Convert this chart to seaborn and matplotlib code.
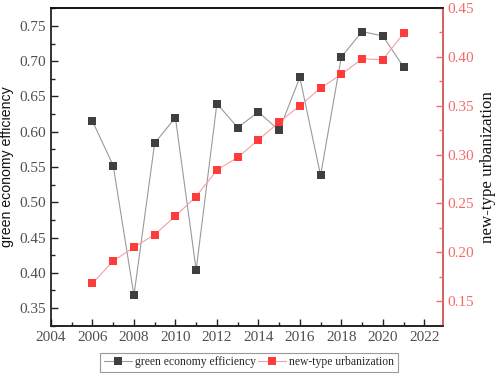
import numpy as np
import pandas as pd
import matplotlib
matplotlib.use("Agg")
import matplotlib.pyplot as plt
import seaborn as sns
from matplotlib.ticker import MultipleLocator, FormatStrFormatter

# Values.
years = [2006, 2007, 2008, 2009, 2010, 2011, 2012, 2013,
         2014, 2015, 2016, 2017, 2018, 2019, 2020, 2021]
green_eff = [0.615, 0.552, 0.368, 0.584, 0.620, 0.404, 0.640, 0.606,
             0.628, 0.602, 0.677, 0.538, 0.706, 0.742, 0.736, 0.692]
urbanization = [0.168, 0.191, 0.205, 0.218, 0.237, 0.257, 0.284, 0.297,
                0.315, 0.333, 0.350, 0.368, 0.382, 0.398, 0.397, 0.424]

df = pd.DataFrame({"year": years, "green": green_eff, "urban": urbanization})

sns.set_theme(style="ticks")
plt.rcParams["font.family"] = ["Liberation Serif", "DejaVu Serif"]

fig = plt.figure(figsize=(4.98, 3.74), dpi=100)
ax = fig.add_axes([0.1024, 0.1283, 0.787, 0.8503])
ax2 = ax.twinx()

red = "#ff3b3b"
red_axis = "#f26b6b"

sns.lineplot(data=df, x="year", y="green", ax=ax, color="#9a9a9a",
             marker="s", markersize=5.4, markeredgewidth=0, linewidth=0.8,
             markerfacecolor="#3f3f3f", legend=False)

sns.lineplot(data=df, x="year", y="urban", ax=ax2, color="#f4a0a0",
             marker="s", markersize=5.4, markeredgewidth=0, linewidth=0.8,
             markerfacecolor=red, legend=False)

ax.set_xlim(2004, 2022.9)
ax.set_ylim(0.3245, 0.7755)
ax2.set_ylim(0.1244, 0.45)

ax.xaxis.set_major_locator(MultipleLocator(2))
ax.xaxis.set_minor_locator(MultipleLocator(1))
ax.yaxis.set_major_locator(MultipleLocator(0.05))
ax.yaxis.set_minor_locator(MultipleLocator(0.025))
ax2.yaxis.set_major_locator(MultipleLocator(0.05))
ax2.yaxis.set_minor_locator(MultipleLocator(0.025))
ax.yaxis.set_major_formatter(FormatStrFormatter("%.2f"))
ax2.yaxis.set_major_formatter(FormatStrFormatter("%.2f"))

ax.tick_params(axis="both", which="major", direction="in", length=5,
               width=1, labelsize=11, labelcolor="#505050", color="#222222")
ax.tick_params(axis="both", which="minor", direction="in", length=3,
               width=1, color="#222222")
ax.tick_params(axis="y", right=False)
ax.tick_params(axis="x", top=False, which="both")
ax2.tick_params(axis="y", which="major", direction="in", length=5, width=1,
                labelsize=11, labelcolor=red_axis, color=red_axis)
ax2.tick_params(axis="y", which="minor", direction="in", length=3, width=1,
                color=red_axis)

for s in ["left", "bottom", "top"]:
    ax.spines[s].set_color("#111111")
    ax.spines[s].set_linewidth(1.2)
ax2.spines["right"].set_color(red_axis)
ax2.spines["right"].set_linewidth(1.2)
ax2.spines["top"].set_color("#111111")
ax2.spines["top"].set_linewidth(1.2)
ax2.spines["left"].set_visible(False)

ax.set_xlabel("")
ax.set_ylabel("green economy efficiency", fontsize=10.2, color="#111111",
              labelpad=4, family=["Liberation Sans", "DejaVu Sans"])
ax2.set_ylabel("new-type urbanization", fontsize=12.2, color="#111111",
               labelpad=4)

handles = ax.lines[:1] + ax2.lines[:1]
labels = ["green economy efficiency", "new-type urbanization"]
leg = fig.legend(handles, labels, loc="center", bbox_to_anchor=(0.5, 0.032),
                 ncol=2, fontsize=8.4, frameon=True, fancybox=False,
                 handlelength=2.4, columnspacing=0.15, handletextpad=0.3,
                 borderpad=0.3, edgecolor="#999999", framealpha=1)
leg.get_frame().set_linewidth(0.8)

fig.savefig("out.png", dpi=100)
